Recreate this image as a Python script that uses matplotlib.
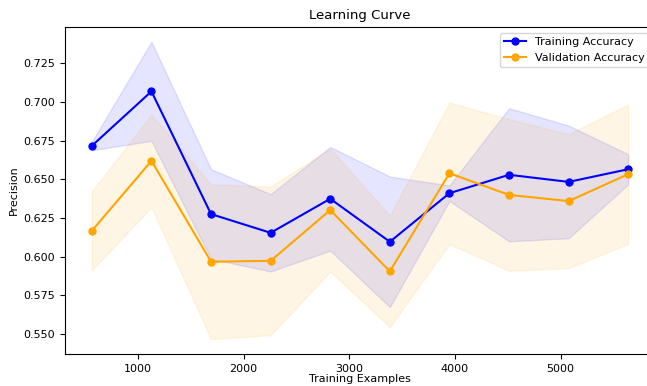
import numpy as np
import matplotlib
matplotlib.use("Agg")
from matplotlib import pyplot as plt

# training set sizes used by the learning curve
train_sizes = [564, 1128, 1692, 2256, 2820, 3384, 3948, 4512, 5076, 5640]

# mean / std precision across the CV folds
train_mean = [0.6717, 0.7069, 0.6276, 0.6155, 0.6375, 0.6097, 0.6411, 0.6530, 0.6484, 0.6566]
train_std = [0.0028, 0.0320, 0.0290, 0.0250, 0.0335, 0.0422, 0.0050, 0.0430, 0.0364, 0.0097]
val_mean = [0.6168, 0.6620, 0.5968, 0.5974, 0.6302, 0.5906, 0.6540, 0.6400, 0.6360, 0.6534]
val_std = [0.0255, 0.0300, 0.0500, 0.0480, 0.0397, 0.0360, 0.0457, 0.0490, 0.0433, 0.0450]

train_mean = np.array(train_mean)
train_std = np.array(train_std)
val_mean = np.array(val_mean)
val_std = np.array(val_std)

fig = plt.figure(figsize=(6.47, 3.86), dpi=100)
ax = fig.add_axes([0.1005, 0.083, 0.912, 0.847])

ax.plot(train_sizes, train_mean, color="blue", marker="o", markersize=5, label="Training Accuracy")
ax.fill_between(train_sizes, train_mean - train_std, train_mean + train_std, color="blue", alpha=0.1)
ax.plot(train_sizes, val_mean, color="orange", marker="o", markersize=5, label="Validation Accuracy")
ax.fill_between(train_sizes, val_mean - val_std, val_mean + val_std, color="orange", alpha=0.1)

ax.set_title("Learning Curve", fontsize=9.5)
ax.set_xlabel("Training Examples", fontsize=8, labelpad=0.5)
ax.set_ylabel("Precision", fontsize=8, labelpad=3)
ax.tick_params(axis="both", which="major", labelsize=8)
ax.legend(loc="upper right", fontsize=8)

fig.savefig("out.png", dpi=100)
